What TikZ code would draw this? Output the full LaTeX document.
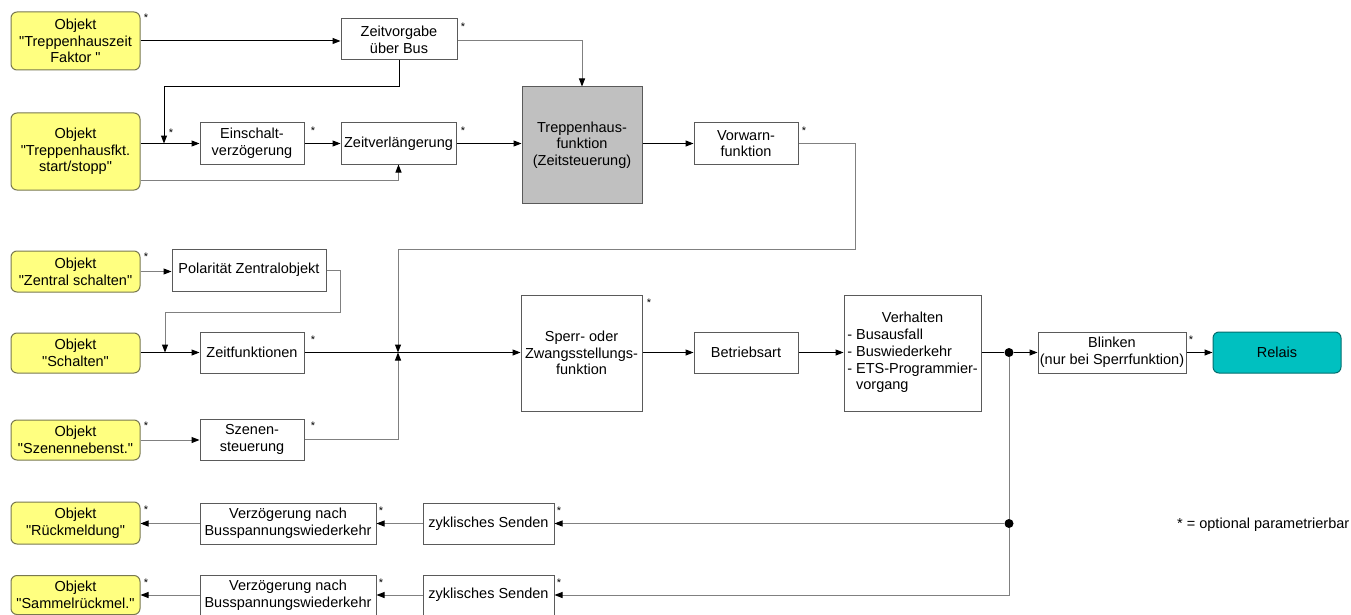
\documentclass[tikz,border=0pt]{standalone}
\usepackage{fontspec}
\setmainfont{Liberation Sans}[Ligatures=TeXOff]
\usetikzlibrary{arrows.meta}
\definecolor{objfill}{RGB}{255,255,128}
\definecolor{objdraw}{RGB}{120,120,80}
\definecolor{boxdraw}{RGB}{90,90,90}
\definecolor{lgray}{RGB}{128,128,128}
\definecolor{thfill}{RGB}{192,192,192}
\definecolor{relfill}{RGB}{0,192,192}
\definecolor{reldraw}{RGB}{0,110,110}
\begin{document}
\begin{tikzpicture}[x=1pt,y=-1pt,
  every node/.style={font=\fontsize{14.5}{16.7}\selectfont, inner sep=0pt, align=center},
  obj/.style={draw=objdraw, fill=objfill, rounded corners=6pt, line width=1pt},
  box/.style={draw=boxdraw, fill=white, line width=1pt},
  thbox/.style={draw=boxdraw, fill=thfill, line width=1pt},
  relbox/.style={draw=reldraw, fill=relfill, rounded corners=6pt, line width=1pt},
  conn/.style={line width=1pt, -{Triangle[length=8pt,width=6pt,color=black]}},
  plain/.style={line width=1pt},
  gline/.style={draw=lgray},
  star/.style={font=\fontsize{11}{11}\selectfont, anchor=base},
  dot/.style={circle, fill=black, inner sep=0pt, minimum size=9pt}
]
\useasboundingbox (0,0) rectangle (1351,615);

% objects
\node[obj, minimum width=129, minimum height=58] (O1) at (75.5,41) {Objekt\\"Treppenhauszeit\\Faktor "};
\node[obj, minimum width=129, minimum height=77] (O2) at (75.5,151.5) {Objekt\\"Treppenhausfkt.\\start/stopp"};
\node[obj, minimum width=129, minimum height=41] (O3) at (75.5,271.5) {Objekt\\"Zentral schalten"};
\node[obj, minimum width=129, minimum height=40] (O4) at (75.5,353) {Objekt\\"Schalten"};
\node[obj, minimum width=129, minimum height=40] (O5) at (75.5,440) {Objekt\\"Szenennebenst."};
\node[obj, minimum width=129, minimum height=42] (O6) at (75.5,523) {Objekt\\"Rückmeldung"};
\node[obj, minimum width=129, minimum height=39] (O7) at (75.5,595) {Objekt\\"Sammelrückmel."};

% function boxes
\node[box, minimum width=116, minimum height=41] (ZV) at (399,39.5) {Zeitvorgabe\\über Bus};
\node[box, minimum width=104, minimum height=41] (EV) at (252,143.5) {Einschalt-\\verzögerung};
\node[box, minimum width=115, minimum height=41] (ZL) at (398.5,143.5) {Zeitverlängerung};
\node[thbox, minimum width=120, minimum height=116] (TH) at (582,145) {Treppenhaus-\\funktion\\(Zeitsteuerung)};
\node[box, minimum width=104, minimum height=41] (VW) at (746,143.5) {Vorwarn-\\funktion};
\node[box, minimum width=154, minimum height=42] (PZ) at (249,270) {Polarität Zentralobjekt};
\node[box, minimum width=104, minimum height=41] (ZF) at (252,352.5) {Zeitfunktionen};
\node[box, minimum width=104, minimum height=41] (SZ) at (252,439.5) {Szenen-\\steuerung};
\node[box, minimum width=121, minimum height=116] (SP) at (581.5,353) {Sperr- oder\\Zwangsstellungs-\\funktion};
\node[box, minimum width=104, minimum height=41] (BA) at (746,352.5) {Betriebsart};
\node[box, minimum width=137, minimum height=116] (VH) at (912.5,353) {\begin{tabular}{@{}l@{}}\multicolumn{1}{@{}c@{}}{Verhalten}\\- Busausfall\\- Buswiederkehr\\- ETS-Programmier-\\\phantom{- }vorgang\end{tabular}};
\node[box, minimum width=148, minimum height=41] (BL) at (1112,352.5) {Blinken\\(nur bei Sperrfunktion)};
\node[relbox, minimum width=128, minimum height=41] (RE) at (1277,352.5) {Relais};
\node[box, minimum width=176, minimum height=41] (VZ1) at (288,523.5) {Verzögerung nach\\Busspannungswiederkehr};
\node[box, minimum width=131, minimum height=41] (ZS1) at (488.5,523.5) {zyklisches Senden};
\node[box, minimum width=176, minimum height=40] (VZ2) at (288,595) {Verzögerung nach\\Busspannungswiederkehr};
\node[box, minimum width=131, minimum height=40] (ZS2) at (488.5,595) {zyklisches Senden};

% junctions
\coordinate (j1) at (164,143.5);
\coordinate (j2) at (165,352.5);
\coordinate (j3) at (398,352.5);
\node[dot] (d1) at (1009,352.5) {};
\node[dot] (d2) at (1009,523.5) {};

% connectors
\draw[conn] (O1.east) -- (O1.east -| ZV.west);
\draw[conn, gline] (ZV.east |- 0,41) -| (TH.north);
\draw[conn] (ZV.south) -- ++(0,26) -| (j1);
\draw[conn] (O2.east |- EV.west) -- (EV.west);
\draw[conn] (EV.east) -- (ZL.west);
\draw[conn, gline] (O2.east |- 0,180) -| (ZL.south);
\draw[conn] (ZL.east) -- (ZL.east -| TH.west);
\draw[conn] (VW.west -| TH.east) -- (VW.west);
\draw[conn, gline] (VW.east) -| (855,249) -| (j3);
\draw[conn, gline] (O3.east) -- (O3.east -| PZ.west);
\draw[conn, gline] (PZ.east) -| (340,312) -| (j2);
\draw[conn] (O4.east |- ZF.west) -- (ZF.west);
\draw[conn] (ZF.east) -- (ZF.east -| SP.west);
\draw[conn, gline] (O5.east) -- (O5.east -| SZ.west);
\draw[conn, gline] (SZ.east) -| (j3);
\draw[conn] (SP.east |- BA.west) -- (BA.west);
\draw[conn] (BA.east) -- (BA.east -| VH.west);
\draw[plain] (VH.east |- d1) -- (d1);
\draw[conn] (d1) -- (BL.west);
\draw[conn] (BL.east) -- (RE.west);
\draw[plain, gline] (d1) -- (d2);
\draw[conn, gline] (d2) -- (ZS1.east);
\draw[conn, gline] (d2) |- (ZS2.east);
\draw[conn, gline] (ZS1.west) -- (VZ1.east);
\draw[conn, gline] (VZ1.west) -- (VZ1.west -| O6.east);
\draw[conn, gline] (ZS2.west) -- (VZ2.east);
\draw[conn, gline] (VZ2.west) -- (VZ2.west -| O7.east);

% stars
\node[star] (s1) at (146,21.5) {*};
\node[star] (s2) at (463,30.5) {*};
\node[star] (s3) at (171,136.5) {*};
\node[star] (s4) at (313,134.5) {*};
\node[star] (s5) at (463,134.5) {*};
\node[star] (s6) at (804,134.5) {*};
\node[star] (s7) at (146,260.5) {*};
\node[star] (s8) at (313,343.5) {*};
\node[star] (s9) at (146,429.5) {*};
\node[star] (s10) at (313,429.5) {*};
\node[star] (s11) at (649,306.5) {*};
\node[star] (s12) at (1191,343.5) {*};
\node[star] (s13) at (146,513.5) {*};
\node[star] (s14) at (381,514.5) {*};
\node[star] (s15) at (559,514.5) {*};
\node[star] (s16) at (146,586.5) {*};
\node[star] (s17) at (381,586.5) {*};
\node[star] (s18) at (559,586.5) {*};

\node[anchor=west] (leg) at (1177,525) {* = optional parametrierbar};
\end{tikzpicture}
\end{document}
